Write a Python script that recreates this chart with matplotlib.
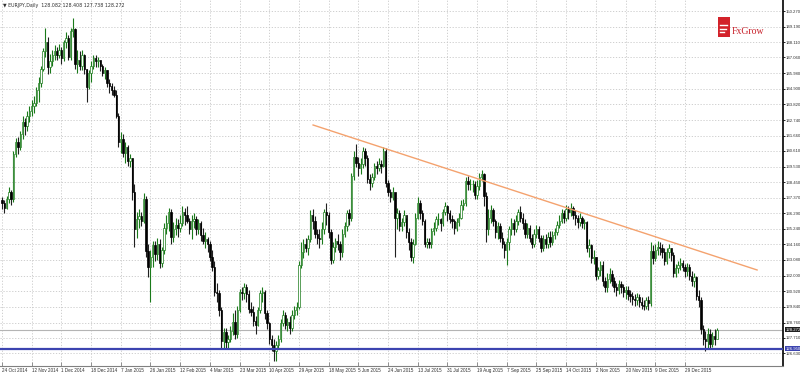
import matplotlib
matplotlib.use("Agg")
import matplotlib.pyplot as plt
from matplotlib.patches import Rectangle
import matplotlib.transforms as mtransforms

# ---------------- data (EURJPY daily) ----------------
first_open = 137.2
closes = [
    137.0, 136.7, 137.3, 137.8, 137.3, 140.4, 141.2, 140.9, 141.8, 142.6,
    142.3, 143.0, 143.4, 143.7, 143.9, 144.8, 145.3, 146.3, 147.5, 148.1,
    146.4, 146.8, 147.2, 147.5, 147.2, 147.6, 147.0, 148.1, 148.4, 147.1,
    148.9, 149.0, 146.6, 146.9, 146.5, 147.2, 146.3, 145.0, 146.0, 146.5,
    147.0, 146.8, 146.9, 146.5, 146.0, 146.2, 145.3, 145.1, 144.8, 144.5,
    143.0, 141.2, 141.4, 140.5, 140.9, 139.9, 140.1, 137.8, 135.2, 135.9,
    136.1, 135.8, 137.3, 133.7, 132.6, 133.3, 134.1, 133.5, 134.2, 132.9,
    133.8, 135.3, 135.6, 136.4, 134.7, 135.2, 135.5, 135.3, 135.6, 136.4,
    136.2, 135.8, 135.2, 135.8, 135.9, 135.2, 135.6, 134.8, 134.4, 134.5,
    134.2, 133.3, 132.6, 130.9, 130.8, 129.6, 127.5, 128.1, 127.4, 127.6,
    128.2, 128.8, 128.0, 129.6, 130.9, 130.8, 131.2, 130.7, 129.7, 129.5,
    128.9, 128.6, 129.6, 130.8, 130.9, 129.4, 128.7, 127.6, 127.2, 126.8,
    127.2, 127.6, 128.7, 129.3, 128.6, 128.8, 128.4, 129.3, 129.6, 129.8,
    132.7, 133.6, 134.2, 133.9, 134.5, 136.2, 135.8, 134.9, 134.6, 134.5,
    135.2, 136.4, 136.2, 135.0, 133.1, 134.0, 134.4, 134.2, 133.6, 134.9,
    135.4, 136.3, 136.0, 138.9, 140.2, 139.8, 139.4, 139.7, 140.6, 140.1,
    138.7, 138.4, 138.8, 139.6, 139.4, 139.7, 139.6, 140.6, 138.4, 137.8,
    137.4, 137.8, 136.0, 136.3, 135.4, 135.7, 136.2, 135.0, 134.3, 133.3,
    134.2, 136.0, 137.0, 136.3, 135.8, 134.2, 134.3, 134.2, 135.1, 135.3,
    135.9, 135.9, 135.6, 136.4, 136.8, 136.3, 135.9, 135.8, 135.3, 135.7,
    136.0, 136.9, 137.0, 138.5, 138.3, 138.3, 138.3, 137.6, 138.2, 138.8,
    139.0, 137.5, 135.2, 136.0, 136.5, 135.8, 135.0, 135.4, 134.6, 134.2,
    133.8, 134.3, 135.2, 135.6, 135.2, 135.8, 136.4, 136.0, 135.6, 134.9,
    135.3, 134.6, 134.2, 134.9, 135.2, 134.6, 133.9, 134.5, 134.2, 134.7,
    134.3, 134.8, 135.0, 135.5, 135.8, 136.3, 136.0, 136.6, 136.4, 136.7,
    136.2, 136.0, 135.7, 136.0, 135.6, 135.7, 133.9, 134.1, 133.2, 133.3,
    132.0, 132.4, 132.7, 131.6, 131.2, 131.8, 132.1, 131.6, 131.2, 131.0,
    131.4, 131.2, 130.9, 131.0, 130.7, 130.6, 130.4, 130.3, 130.5, 130.2,
    130.0, 129.9, 130.3, 130.1, 133.7, 133.2, 133.8, 134.0, 133.9, 133.6,
    133.0, 133.6, 133.9, 133.4, 132.2, 132.5, 132.7, 132.9, 132.6, 132.3,
    132.6, 132.0, 131.6, 131.9, 130.6, 130.3, 128.3, 127.6, 127.5, 128.0,
    127.3, 127.8, 127.6, 128.272,
]
highs = [
    137.4, 137.2, 137.5, 138.1, 137.9, 140.6, 141.5, 141.6, 142.0, 143.0,
    142.9, 143.4, 143.7, 144.1, 144.4, 145.0, 145.7, 146.5, 147.7, 149.1,
    148.5, 147.3, 147.6, 147.9, 147.8, 148.0, 147.8, 148.3, 148.8, 148.6,
    149.1, 149.8, 149.1, 147.6, 147.5, 147.6, 147.3, 146.3, 146.2, 146.8,
    147.2, 147.2, 147.1, 146.9, 146.6, 146.4, 146.2, 145.6, 145.3, 145.1,
    144.8, 143.2, 141.9, 141.8, 141.2, 141.0, 140.4, 140.1, 138.3, 136.4,
    136.6, 136.4, 137.7, 137.5, 134.2, 133.8, 134.4, 134.4, 134.6, 134.5,
    134.0, 135.6, 136.2, 136.7, 136.6, 135.7, 136.0, 135.9, 136.2, 136.8,
    136.7, 136.8, 136.0, 136.2, 136.3, 136.1, 135.9, 135.8, 135.3, 135.0,
    134.7, 134.4, 133.8, 133.0, 131.5, 131.0, 129.8, 128.4, 128.4, 127.9,
    128.5, 129.4, 129.6, 129.9, 131.1, 131.2, 131.5, 131.4, 131.0, 130.2,
    129.9, 129.2, 129.8, 131.0, 131.2, 131.0, 129.6, 128.8, 127.9, 127.6,
    127.5, 127.9, 129.0, 129.6, 129.5, 129.1, 129.2, 129.6, 129.9, 130.2,
    133.0, 134.3, 134.5, 134.6, 134.8, 136.5, 136.6, 136.1, 135.2, 135.2,
    135.7, 136.6, 137.0, 136.4, 135.2, 134.3, 134.6, 134.9, 134.4, 135.2,
    135.7, 136.5, 136.6, 139.1, 140.6, 141.1, 140.2, 140.1, 140.9, 140.8,
    140.3, 139.0, 139.1, 139.8, 139.9, 140.1, 140.0, 140.9, 140.8, 138.6,
    138.0, 138.1, 137.0, 136.7, 136.5, 136.0, 136.5, 136.0, 135.3, 134.6,
    134.5, 136.3, 137.4, 137.2, 136.5, 135.9, 134.6, 134.6, 135.3, 135.7,
    136.1, 136.3, 136.0, 136.6, 137.1, 136.9, 136.5, 136.2, 135.9, 136.0,
    136.3, 137.2, 137.3, 138.8, 138.9, 138.7, 138.6, 138.5, 138.6, 139.1,
    139.3, 139.1, 137.8, 136.6, 136.9, 136.7, 135.9, 135.7, 135.6, 135.0,
    134.4, 134.6, 135.4, 136.0, 135.9, 136.2, 136.6, 136.8, 136.3, 135.9,
    135.6, 135.5, 134.9, 135.2, 135.5, 135.4, 134.8, 134.8, 134.9, 135.0,
    135.1, 135.1, 135.3, 135.8, 136.2, 136.6, 136.5, 136.9, 136.8, 137.0,
    136.8, 136.5, 136.2, 136.3, 136.1, 135.9, 135.8, 134.5, 134.2, 133.8,
    133.3, 132.6, 133.0, 133.0, 131.9, 132.2, 132.5, 132.4, 131.9, 131.5,
    131.7, 131.6, 131.4, 131.3, 131.3, 131.0, 130.9, 130.7, 130.8, 130.7,
    130.5, 130.3, 130.5, 130.6, 134.3, 134.1, 134.2, 134.4, 134.3, 134.2,
    133.9, 133.9, 134.2, 133.9, 133.6, 132.8, 133.0, 133.2, 133.1, 132.8,
    132.9, 132.8, 132.3, 132.2, 132.0, 131.0, 130.5, 128.6, 128.2, 128.4,
    128.3, 128.1, 128.3, 128.41,
]
lows = [
    136.6, 136.3, 136.6, 137.0, 136.9, 137.1, 140.2, 140.4, 140.7, 141.4,
    141.7, 142.0, 142.6, 143.0, 143.2, 143.7, 144.0, 145.0, 146.1, 147.1,
    145.9, 146.0, 146.5, 146.9, 146.9, 147.0, 146.6, 146.8, 147.7, 146.9,
    146.9, 148.5, 146.3, 146.0, 146.2, 146.2, 145.9, 144.0, 144.9, 145.4,
    146.3, 146.4, 146.4, 146.1, 145.8, 145.6, 145.0, 144.6, 144.5, 144.3,
    142.9, 140.9, 140.5, 140.2, 139.8, 139.6, 139.5, 137.2, 134.0, 134.6,
    135.3, 135.4, 135.6, 133.3, 131.9, 130.2, 132.6, 133.0, 133.1, 132.5,
    132.6, 133.5, 134.9, 135.1, 134.2, 134.3, 134.8, 134.7, 135.0, 135.4,
    135.5, 135.6, 134.9, 134.5, 135.3, 134.8, 134.9, 134.4, 134.2, 133.9,
    133.6, 133.0, 132.3, 130.6, 130.2, 129.2, 127.0, 126.9, 127.0, 126.9,
    127.4, 127.9, 127.6, 127.7, 129.5, 130.3, 130.4, 130.2, 129.4, 129.2,
    128.5, 128.0, 128.5, 129.4, 130.2, 129.0, 128.3, 127.3, 126.8, 126.1,
    126.1, 126.9, 127.4, 128.5, 128.3, 128.2, 128.0, 128.2, 129.0, 129.3,
    129.7, 132.5, 133.2, 133.6, 133.4, 134.3, 135.2, 134.6, 134.2, 133.9,
    134.2, 134.9, 135.5, 134.6, 132.8, 132.9, 133.6, 133.8, 133.1, 133.3,
    134.7, 135.1, 135.5, 135.8, 138.6, 139.5, 138.9, 139.0, 139.4, 139.6,
    138.4, 137.9, 138.1, 138.6, 139.0, 139.2, 139.1, 139.5, 138.1, 137.5,
    137.1, 137.2, 133.3, 135.2, 135.1, 135.1, 135.4, 134.6, 133.8, 133.0,
    132.9, 134.1, 135.9, 135.9, 135.5, 134.0, 133.9, 133.9, 133.9, 134.8,
    135.1, 135.5, 135.1, 135.4, 136.2, 135.8, 135.6, 135.3, 134.9, 135.1,
    135.4, 135.9, 136.5, 136.8, 137.9, 137.9, 137.8, 137.3, 137.3, 137.9,
    138.5, 136.8, 134.3, 134.8, 135.6, 135.4, 134.6, 134.5, 134.3, 133.9,
    133.2, 132.7, 133.8, 134.8, 134.8, 135.0, 135.5, 135.7, 135.2, 134.6,
    134.6, 134.3, 133.9, 134.0, 134.6, 134.3, 133.6, 133.7, 133.9, 133.9,
    134.0, 134.1, 134.5, 134.8, 135.3, 135.6, 135.6, 135.8, 135.9, 136.1,
    135.9, 135.5, 135.3, 135.4, 135.3, 135.2, 133.6, 133.3, 132.9, 132.8,
    131.7, 131.8, 132.0, 131.3, 130.9, 130.9, 131.5, 131.3, 130.9, 130.6,
    130.7, 130.8, 130.5, 130.4, 130.3, 130.2, 130.0, 129.9, 130.0, 129.8,
    129.7, 129.6, 129.7, 129.6, 129.9, 132.8, 133.0, 133.4, 133.4, 133.2,
    132.7, 132.8, 133.2, 133.0, 131.9, 131.9, 132.2, 132.4, 132.3, 131.9,
    132.0, 131.7, 131.3, 131.2, 130.3, 129.8, 128.0, 127.2, 126.8, 127.0,
    127.0, 127.1, 127.2, 127.738,
]
opens = [first_open] + closes[:-1]

date_labels = [
    "24 Oct 2014", "12 Nov 2014", "1 Dec 2014", "18 Dec 2014", "7 Jan 2015",
    "26 Jan 2015", "12 Feb 2015", "4 Mar 2015", "23 Mar 2015", "10 Apr 2015",
    "29 Apr 2015", "18 May 2015", "5 Jun 2015", "24 Jun 2015", "13 Jul 2015",
    "31 Jul 2015", "19 Aug 2015", "7 Sep 2015", "25 Sep 2015", "14 Oct 2015",
    "2 Nov 2015", "20 Nov 2015", "9 Dec 2015", "29 Dec 2015",
]
date_label_step = 13  # bars between date labels

price_ticks = [150.270, 149.190, 148.110, 147.060, 145.980, 144.900, 143.820,
               142.740, 141.660, 140.610, 139.530, 138.450, 137.370, 136.290,
               135.240, 134.160, 133.080, 132.000, 130.920, 129.840, 128.760,
               127.710, 126.630]

trend_start = (136.2, 142.40)   # (bar index, price)
trend_end = (330.6, 132.39)
support_level = 126.950
last_price = 128.272
header = "EURJPY,Daily  128.082 128.408 127.738 128.272"

# ---------------- figure ----------------
W, H = 800, 376
FONT = "Liberation Sans"
FS = 3.1
fig = plt.figure(figsize=(W / 100, H / 100), dpi=100)
fig.patch.set_facecolor("white")
ax = fig.add_axes([0, 10 / H, 783 / W, 366 / H])
ax.set_facecolor("white")

px_per_bar = 2.284
ax.set_xlim(-2 / px_per_bar, 781 / px_per_bar)
ax.set_ylim(125.76, 151.03)

grid_kw = dict(color="#c8c8c8", lw=0.6, linestyle=(0, (1.5, 2.0)), zorder=0)
for p in price_ticks:
    ax.axhline(p, **grid_kw)
xt = [k * date_label_step for k in range(len(date_labels))]
for x in xt:
    ax.axvline(x, **grid_kw)

up_col = "#1a7a1a"
bw = 0.6
for i, (o, h, l, c) in enumerate(zip(opens, highs, lows, closes)):
    up = c >= o
    ax.vlines(i, l, h, color=up_col if up else "#202020", lw=0.8, zorder=3)
    lo_b = min(o, c)
    hgt = max(abs(c - o), 0.02)
    ax.add_patch(Rectangle((i - bw / 2, lo_b), bw, hgt,
                           facecolor="white" if up else "black",
                           edgecolor=up_col if up else "black", lw=0.5, zorder=4))

# trend line and levels
ax.plot([trend_start[0], trend_end[0]], [trend_start[1], trend_end[1]],
        color="#f4a26e", lw=1.0, zorder=5)
ax.axhline(support_level, color="#3c44b0", lw=1.6, zorder=5)
ax.axhline(last_price, color="#b4b4b4", lw=0.8, zorder=2)

# axes styling
for s in ["top", "left"]:
    ax.spines[s].set_visible(False)
ax.spines["right"].set_color("black")
ax.spines["right"].set_linewidth(1.2)
ax.spines["bottom"].set_color("#808080")
ax.spines["bottom"].set_linewidth(0.8)
ax.yaxis.tick_right()
ax.set_yticks(price_ticks)
ax.set_yticklabels([f"{p:.3f}" for p in price_ticks], fontfamily=FONT)
ax.tick_params(axis="y", direction="out", length=1.5, width=0.6, pad=0.6,
               labelsize=FS, labelcolor="#303030", colors="black")
ax.set_xticks(xt)
ax.set_xticklabels(date_labels, ha="left", fontfamily=FONT)
ax.tick_params(axis="x", direction="in", length=3, width=0.6, pad=1.2,
               labelsize=FS + 0.2, labelcolor="#303030", colors="#808080")

trans = mtransforms.blended_transform_factory(ax.transAxes, ax.transData)
for val, fc in [(last_price, "#202020"), (support_level, "#3c44b0")]:
    ax.text(1.003, val, f"{val:.3f}", transform=trans, fontsize=FS,
            fontfamily=FONT, color="white", va="center", ha="left", zorder=10,
            bbox=dict(boxstyle="square,pad=0.15", fc=fc, ec="none"),
            clip_on=False)

# header
fig.text(3 / W, 1 - 6 / H, "\u25BC " + header, fontsize=FS + 0.3,
         fontfamily=["DejaVu Sans"], color="#303030", va="center", ha="left")

# FxGrow logo
fig.patches.append(Rectangle((718 / W, 1 - 37 / H), 12 / W, 20 / H,
                             transform=fig.transFigure, facecolor="#d3222a",
                             edgecolor="none", zorder=20))
for (x0, x1, yy) in [(720, 727, 25), (720, 726, 28.5), (720, 724, 32)]:
    fig.lines.append(plt.Line2D([x0 / W, x1 / W], [1 - yy / H, 1 - yy / H],
                                transform=fig.transFigure, color="white",
                                lw=1.0, zorder=21))
fig.text(732 / W, 1 - 31 / H, "FxGrow", fontsize=7, color="#c8202a",
         family="Liberation Serif", va="center", ha="left", zorder=21)

fig.savefig("out.png", dpi=100)
